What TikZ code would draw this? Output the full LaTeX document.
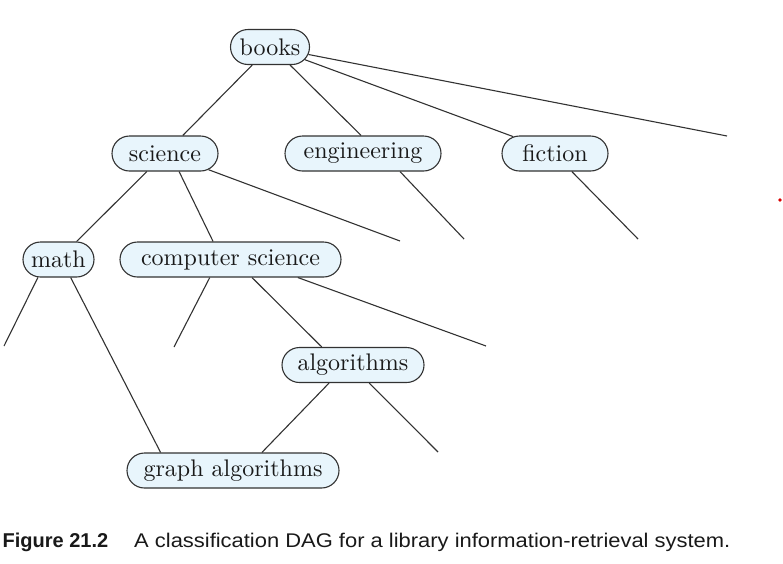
\documentclass[tikz,border=0pt]{standalone}
\usepackage{fontspec}
\newfontfamily\capfont{Liberation Sans}
\newfontfamily\capwide[FakeStretch=1.108]{Liberation Sans}
\newfontfamily\nodefont{lmroman10-regular.otf}
\usetikzlibrary{shapes.misc}
\definecolor{nodefill}{RGB}{232,245,252}
\definecolor{linegray}{RGB}{50,50,50}
\definecolor{textdark}{RGB}{25,25,25}
\tikzset{
  cat/.style={rounded rectangle, draw=linegray, line width=1.1pt, fill=nodefill,
    minimum height=35, inner xsep=0pt, inner ysep=0pt, text=textdark,
    font=\nodefont\fontsize{24}{28}\selectfont},
  edge/.style={draw=linegray, line width=1.1pt},
  captext/.style={anchor=base west, inner sep=0pt, text=textdark}
}
\begin{document}
\begin{tikzpicture}[x=1pt,y=-1pt]
\useasboundingbox (0,0) rectangle (783,563);
% nodes
\node[cat, minimum width=79]  (books) at (270,47)    {books};
\node[cat, minimum width=106] (sci)   at (165,153.5) {science};
\node[cat, minimum width=156] (eng)   at (363,153.5) {engineering};
\node[cat, minimum width=106] (fic)   at (555,153.5) {fiction};
\node[cat, minimum width=71]  (math)  at (58.5,259.5) {math};
\node[cat, minimum width=221] (cs)    at (230.5,259.5) {computer science};
\node[cat, minimum width=142] (alg)   at (353,365)   {algorithms};
\node[cat, minimum width=212] (ga)    at (233,470.5) {graph algorithms};
% free ends
\coordinate (e1) at (727,136);
\coordinate (e2) at (400,241);
\coordinate (e3) at (464,239);
\coordinate (e4) at (638,239);
\coordinate (e5) at (4,346);
\coordinate (e6) at (174,347);
\coordinate (e7) at (486,346);
\coordinate (e8) at (438,452);
% edges
\path[edge] (books) -- (sci);
\path[edge] (books.-42) -- (eng.96);
\path[edge] (books.-20.7) -- (fic.158);
\path[edge] (books) -- (e1);
\path[edge] (sci) -- (math);
\path[edge] (sci.-52) -- (cs.134);
\path[edge] (sci) -- (e2);
\path[edge] (eng.-26.6) -- (e3);
\path[edge] (fic.-47.6) -- (e4);
\path[edge] (math.-139.5) -- (e5);
\path[edge] (math.-56.7) -- (ga.166);
\path[edge] (cs.-139.5) -- (e6);
\path[edge] (cs.-40.5) -- (alg.150.6);
\path[edge] (cs.-15.2) -- (e7);
\path[edge] (alg.-143) -- (ga.32);
\path[edge] (alg.-48.4) -- (e8);
% stray dot
\fill[red!85!black] (780,200) circle (1.8);
% caption
\node[captext, font=\capfont\bfseries\fontsize{20}{24}\selectfont] (capnum) at (2.5,547) {Figure 21.2};
\node[captext, font=\capwide\fontsize{19.8}{24}\selectfont] (captxt) at (134,547)
  {A classification DAG for a library information-retrieval system.};
\end{tikzpicture}
\end{document}
